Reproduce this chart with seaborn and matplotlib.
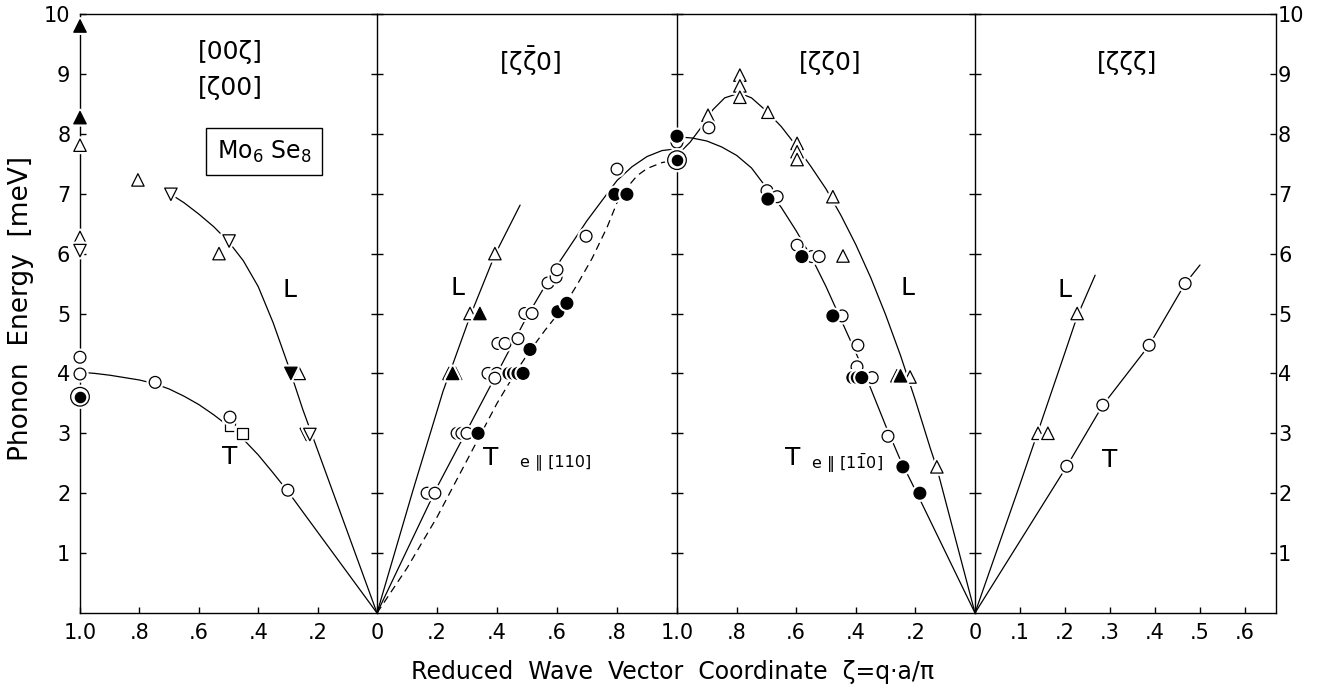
import matplotlib
matplotlib.use("Agg")
import matplotlib.pyplot as plt
import matplotlib.patheffects as pe
import seaborn as sns

# ---------------- data (ζ = reduced wave vector, E = phonon energy in meV) -------------
# Panel 1: [00ζ] / [ζ00]   (ζ runs 1.0 -> 0)
p1_circ_open_z = [1.0, 1.0, 0.747, 0.495, 0.300]
p1_circ_open_e = [4.27, 3.99, 3.85, 3.27, 2.05]
p1_circ_ring_z = [1.0]
p1_circ_ring_e = [3.61]
p1_sq_open_z = [0.495, 0.452]
p1_sq_open_e = [3.13, 2.99]
p1_tri_open_z = [1.0, 1.0, 0.805, 0.532, 0.262]
p1_tri_open_e = [7.81, 6.27, 7.23, 6.00, 4.00]
p1_tri_fill_z = [1.0, 1.0]
p1_tri_fill_e = [9.80, 8.27]
p1_tdn_open_z = [1.0, 0.694, 0.498, 0.238, 0.226]
p1_tdn_open_e = [6.05, 6.99, 6.21, 2.98, 2.98]
p1_tdn_fill_z = [0.290]
p1_tdn_fill_e = [4.00]
p1_T_curve_z = [1.0, 0.95, 0.9, 0.85, 0.8, 0.75, 0.7, 0.65, 0.6, 0.55, 0.5, 0.45, 0.4,
                0.35, 0.3, 0.25, 0.0]
p1_T_curve_e = [4.02, 4.00, 3.97, 3.93, 3.89, 3.83, 3.74, 3.62, 3.48, 3.31, 3.12, 2.90,
                2.64, 2.34, 2.03, 1.69, 0.0]
p1_L_curve_z = [0.694, 0.65, 0.6, 0.55, 0.5, 0.45, 0.4, 0.35, 0.3, 0.25, 0.0]
p1_L_curve_e = [6.99, 6.85, 6.66, 6.45, 6.20, 5.88, 5.45, 4.85, 4.15, 3.40, 0.0]

# Panel 2: [ζ ζ̄ 0]   (ζ runs 0 -> 1.0)
p2_circ_open_z = [0.167, 0.193, 0.267, 0.283, 0.300, 0.370, 0.400, 0.393, 0.403, 0.427,
                  0.470, 0.493, 0.517, 0.570, 0.597, 0.600, 0.697, 0.800]
p2_circ_open_e = [2.00, 2.00, 3.00, 3.00, 3.00, 4.00, 4.00, 3.92, 4.50, 4.50,
                  4.58, 5.00, 5.00, 5.51, 5.61, 5.73, 6.29, 7.41]
p2_circ_fill_z = [0.337, 0.440, 0.455, 0.470, 0.487, 0.510, 0.603, 0.633, 0.793, 0.833]
p2_circ_fill_e = [3.00, 4.00, 4.00, 4.00, 4.00, 4.40, 5.03, 5.17, 6.99, 6.99]
p2_tri_open_z = [0.240, 0.262, 0.310, 0.393]
p2_tri_open_e = [4.00, 4.00, 5.00, 6.00]
p2_tri_fill_z = [0.252, 0.343]
p2_tri_fill_e = [4.00, 5.00]
p2_L_curve_z = [0.0, 0.12, 0.22, 0.31, 0.393, 0.477]
p2_L_curve_e = [0.0, 2.05, 3.70, 4.95, 5.98, 6.81]
p2_T_curve_z = [0.0, 0.1, 0.2, 0.3, 0.4, 0.5, 0.6, 0.7, 0.8, 0.85, 0.9, 0.95, 1.0]
p2_T_curve_e = [0.0, 1.05, 2.10, 3.05, 4.00, 4.95, 5.80, 6.55, 7.22, 7.45, 7.62, 7.72, 7.75]
p2_Td_curve_z = [0.0, 0.1, 0.2, 0.3, 0.4, 0.467, 0.51, 0.56, 0.62, 0.667, 0.717, 0.767,
                 0.80, 0.833, 0.867, 0.9, 0.95, 1.0]
p2_Td_curve_e = [0.0, 0.75, 1.60, 2.55, 3.50, 4.06, 4.38, 4.72, 5.10, 5.48, 5.92, 6.44,
                 6.85, 7.10, 7.30, 7.42, 7.52, 7.56]

# Panel 3: [ζζ0]   (ζ runs 1.0 -> 0)
p3_circ_open_z = [1.0, 0.893, 0.698, 0.664, 0.597, 0.547, 0.523, 0.446, 0.393, 0.396,
                  0.360, 0.345, 0.292]
p3_circ_open_e = [7.86, 8.10, 7.05, 6.95, 6.14, 5.95, 5.95, 4.96, 4.47, 4.11,
                  3.93, 3.93, 2.95]
p3_circ_fill_z = [1.0, 0.695, 0.581, 0.477, 0.410, 0.395, 0.380, 0.242, 0.185]
p3_circ_fill_e = [7.96, 6.91, 5.95, 4.96, 3.93, 3.93, 3.93, 2.44, 2.00]
p3_circ_ring_z = [1.0]
p3_circ_ring_e = [7.56]
p3_tri_open_z = [0.896, 0.789, 0.789, 0.789, 0.695, 0.597, 0.597, 0.597, 0.477, 0.443,
                 0.262, 0.218, 0.128]
p3_tri_open_e = [8.31, 8.98, 8.80, 8.61, 8.36, 7.84, 7.70, 7.57, 6.95, 5.96,
                 3.96, 3.94, 2.44]
p3_tri_fill_z = [0.250]
p3_tri_fill_e = [3.96]
p3_T_curve_z = [1.0, 0.95, 0.9, 0.85, 0.8, 0.75, 0.7, 0.65, 0.6, 0.55, 0.5, 0.45, 0.4,
                0.35, 0.3, 0.25, 0.2, 0.0]
p3_T_curve_e = [7.95, 7.93, 7.88, 7.78, 7.64, 7.43, 7.10, 6.77, 6.38, 5.95, 5.45, 4.90,
                4.35, 3.75, 3.13, 2.55, 2.05, 0.0]
p3_L_curve_z = [0.98, 0.956, 0.92, 0.88, 0.84, 0.79, 0.75, 0.7, 0.65, 0.6, 0.55, 0.5,
                0.45, 0.4, 0.35, 0.3, 0.25, 0.2, 0.15, 0.128, 0.0]
p3_L_curve_e = [7.74, 7.86, 8.10, 8.40, 8.60, 8.68, 8.60, 8.38, 8.12, 7.80, 7.45, 7.08,
                6.64, 6.15, 5.60, 4.98, 4.30, 3.55, 2.75, 2.42, 0.0]

# Panel 4: [ζζζ]   (ζ runs 0 -> 0.67)
p4_circ_open_z = [0.204, 0.284, 0.387, 0.467]
p4_circ_open_e = [2.45, 3.47, 4.47, 5.50]
p4_tri_open_z = [0.140, 0.162, 0.227]
p4_tri_open_e = [3.00, 3.00, 5.00]
p4_L_curve_z = [0.0, 0.1, 0.2, 0.227, 0.267]
p4_L_curve_e = [0.0, 2.15, 4.35, 4.95, 5.64]
p4_T_curve_z = [0.0, 0.204, 0.284, 0.387, 0.467, 0.50]
p4_T_curve_e = [0.0, 2.45, 3.47, 4.47, 5.50, 5.81]

energy_ticks = [1, 2, 3, 4, 5, 6, 7, 8, 9, 10]
p1_xticks = [1.0, 0.8, 0.6, 0.4, 0.2, 0.0]
p1_xlabels = ["1.0", ".8", ".6", ".4", ".2", "0"]
p2_xticks = [0.2, 0.4, 0.6, 0.8, 1.0]
p2_xlabels = [".2", ".4", ".6", ".8", "1.0"]
p3_xticks = [0.8, 0.6, 0.4, 0.2, 0.0]
p3_xlabels = [".8", ".6", ".4", ".2", "0"]
p4_xticks = [0.1, 0.2, 0.3, 0.4, 0.5, 0.6]
p4_xlabels = [".1", ".2", ".3", ".4", ".5", ".6"]

# ---------------- style ----------------
sns.set_style("ticks", {"axes.edgecolor": "black", "xtick.color": "black",
                        "ytick.color": "black", "text.color": "black",
                        "axes.labelcolor": "black"})
plt.rcParams["font.family"] = ["DejaVu Sans"]
plt.rcParams["axes.linewidth"] = 1.0

W, H = 1318, 694
fig = plt.figure(figsize=(W / 100, H / 100), dpi=100)
gs = fig.add_gridspec(1, 4, width_ratios=[297, 300, 298, 301],
                      left=80 / W, right=1276 / W, bottom=1 - 613 / H, top=1 - 14 / H,
                      wspace=0)
axes = [fig.add_subplot(gs[0, i]) for i in range(4)]
ax1, ax2, ax3, ax4 = axes

halo = [pe.withStroke(linewidth=4.0, foreground="white")]


def pts(ax, z, e, marker, filled, s, halo_on=True):
    kw = dict(path_effects=halo) if halo_on else {}
    sns.scatterplot(x=z, y=e, ax=ax, marker=marker, s=s,
                    color="black" if filled else "white", edgecolor="black",
                    linewidth=0.9, zorder=5, clip_on=False, legend=False, **kw)


def ring(ax, z, e):
    pts(ax, z, e, "o", False, 180)
    pts(ax, z, e, "o", True, 55, halo_on=False)


def curve(ax, z, e, dashed=False):
    sns.lineplot(x=z, y=e, ax=ax, sort=False, estimator=None, color="black",
                 linewidth=0.9, linestyle=(0, (6, 4)) if dashed else "-",
                 zorder=3, legend=False)


S_CIRC, S_TRI, S_SQ = 72, 80, 62

# panel 1
curve(ax1, p1_T_curve_z, p1_T_curve_e)
curve(ax1, p1_L_curve_z, p1_L_curve_e)
pts(ax1, p1_tri_open_z, p1_tri_open_e, "^", False, S_TRI)
pts(ax1, p1_tri_fill_z, p1_tri_fill_e, "^", True, S_TRI)
pts(ax1, p1_tdn_open_z, p1_tdn_open_e, "v", False, S_TRI)
pts(ax1, p1_tdn_fill_z, p1_tdn_fill_e, "v", True, S_TRI)
pts(ax1, p1_sq_open_z, p1_sq_open_e, "s", False, S_SQ)
pts(ax1, p1_circ_open_z, p1_circ_open_e, "o", False, S_CIRC)
ring(ax1, p1_circ_ring_z, p1_circ_ring_e)

# panel 2
curve(ax2, p2_L_curve_z, p2_L_curve_e)
curve(ax2, p2_T_curve_z, p2_T_curve_e)
curve(ax2, p2_Td_curve_z, p2_Td_curve_e, dashed=True)
pts(ax2, p2_tri_open_z, p2_tri_open_e, "^", False, S_TRI)
pts(ax2, p2_tri_fill_z, p2_tri_fill_e, "^", True, S_TRI)
pts(ax2, p2_circ_open_z, p2_circ_open_e, "o", False, S_CIRC)
pts(ax2, p2_circ_fill_z, p2_circ_fill_e, "o", True, S_CIRC)

# panel 3
curve(ax3, p3_T_curve_z, p3_T_curve_e)
curve(ax3, p3_L_curve_z, p3_L_curve_e)
pts(ax3, p3_tri_open_z, p3_tri_open_e, "^", False, S_TRI)
pts(ax3, p3_tri_fill_z, p3_tri_fill_e, "^", True, S_TRI)
pts(ax3, p3_circ_open_z, p3_circ_open_e, "o", False, S_CIRC)
pts(ax3, p3_circ_fill_z, p3_circ_fill_e, "o", True, S_CIRC)
ring(ax3, p3_circ_ring_z, p3_circ_ring_e)

# panel 4
curve(ax4, p4_L_curve_z, p4_L_curve_e)
curve(ax4, p4_T_curve_z, p4_T_curve_e)
pts(ax4, p4_tri_open_z, p4_tri_open_e, "^", False, S_TRI)
pts(ax4, p4_circ_open_z, p4_circ_open_e, "o", False, S_CIRC)

# axes limits / ticks
ax1.set_xlim(1.0, 0.0)
ax2.set_xlim(0.0, 1.0)
ax3.set_xlim(1.0, 0.0)
ax4.set_xlim(0.0, 301 / 450)
for ax, xt, xl in zip(axes, [p1_xticks, p2_xticks, p3_xticks, p4_xticks],
                      [p1_xlabels, p2_xlabels, p3_xlabels, p4_xlabels]):
    ax.set_ylim(0, 10)
    ax.patch.set_visible(False)
    ax.set_xlabel("")
    ax.set_ylabel("")
    ax.set_xticks(xt)
    ax.set_xticklabels(xl)
    ax.set_yticks(energy_ticks)
    ax.tick_params(axis="x", direction="in", length=4, width=1.0, top=False,
                   bottom=True, labelsize=15, pad=7)
    ax.tick_params(axis="y", direction="in", length=4.5, width=1.0, left=True,
                   right=True, labelleft=False, labelright=False, labelsize=15)
    for sp in ax.spines.values():
        sp.set_visible(True)
        sp.set_linewidth(1.0)
ax1.tick_params(axis="y", labelleft=True, pad=7)
ax4.tick_params(axis="y", labelright=True, pad=1.5)
ax3.spines["left"].set_visible(False)
ax2.spines["left"].set_visible(False)
ax4.spines["left"].set_visible(False)

# annotations
TXT = 18
ax1.text(0.495, 9.37, "[00ζ]", ha="center", va="center", fontsize=TXT)
ax1.text(0.495, 8.76, "[ζ00]", ha="center", va="center", fontsize=TXT)
ax1.text(0.38, 7.70, "Mo$_6$ Se$_8$", ha="center", va="center", fontsize=17,
         bbox=dict(boxstyle="square,pad=0.45", fc="white", ec="black", lw=1.0))
ax1.text(0.293, 5.39, "L", ha="center", va="center", fontsize=TXT)
ax1.text(0.495, 2.60, "T", ha="center", va="center", fontsize=TXT)

ax2.text(0.51, 9.21, r"$\mathregular{[\zeta\bar{\zeta}0]}$", ha="center", va="center",
         fontsize=TXT)
ax2.text(0.267, 5.42, "L", ha="center", va="center", fontsize=TXT)
ax2.text(0.38, 2.59, "T", ha="center", va="center", fontsize=TXT)
ax2.text(0.597, 2.52, "e \u2225 [110]", ha="center", va="center", fontsize=11.5)

ax3.text(0.487, 9.18, "[ζζ0]", ha="center", va="center", fontsize=TXT)
ax3.text(0.225, 5.42, "L", ha="center", va="center", fontsize=TXT)
ax3.text(0.611, 2.59, "T", ha="center", va="center", fontsize=TXT)
ax3.text(0.43, 2.50, r"$\mathregular{e\ \Vert\ [1\bar{1}0]}$", ha="center", va="center",
         fontsize=11.5)

ax4.text(0.338, 9.18, "[ζζζ]", ha="center", va="center", fontsize=TXT)
ax4.text(0.200, 5.39, "L", ha="center", va="center", fontsize=TXT)
ax4.text(0.300, 2.55, "T", ha="center", va="center", fontsize=TXT)

fig.text(21 / W, 1 - 309 / H, "Phonon  Energy  [meV]", rotation=90,
         ha="center", va="center", fontsize=19)
fig.text(673 / W, 1 - 672 / H, "Reduced  Wave  Vector  Coordinate  ζ=q·a/π",
         ha="center", va="center", fontsize=17)

fig.savefig("out.png", dpi=100)
